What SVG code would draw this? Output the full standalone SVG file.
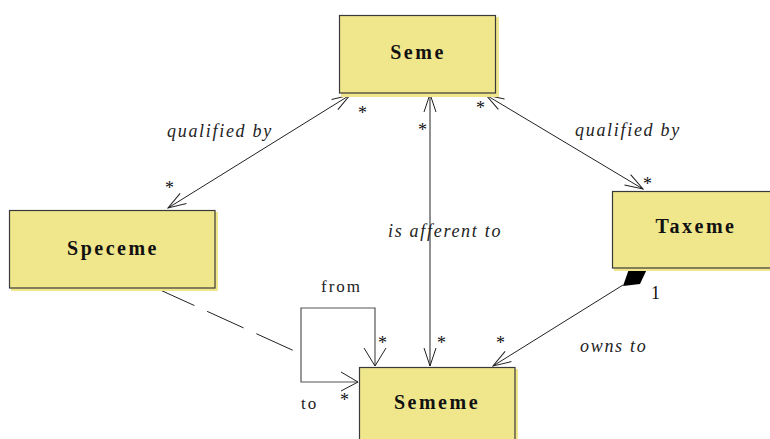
<svg xmlns="http://www.w3.org/2000/svg" width="770" height="439" viewBox="0 0 770 439">
  <defs>
    <style>
      .box { fill: #F0E68C; stroke: #3a3a3a; stroke-width: 1.2; }
      .shadow { fill: #F0E68C; }
      text { font-family: 'Liberation Serif', 'Times New Roman', serif; fill: #222; }
      .name { font-weight: bold; font-size: 20px; letter-spacing: 2.5px; text-anchor: middle; fill: #111; }
      .role { font-style: italic; font-size: 18px; letter-spacing: 1.7px; }
      .plain { font-size: 17px; letter-spacing: 2px; }
      .mult { font-size: 18px; fill: #111; }
      .line { fill: none; stroke: #222; stroke-width: 1; }
      .loop { fill: none; stroke: #555; stroke-width: 1.2; }
    </style>
    <marker id="open" viewBox="0 0 20 14" refX="19" refY="7" markerWidth="20" markerHeight="14" markerUnits="userSpaceOnUse" orient="auto-start-reverse">
      <path d="M1,1 L19,7 L1,13" fill="none" stroke="#222" stroke-width="1"/>
    </marker>
  </defs>

  <!-- associations -->
  <g id="connectors">
    <line class="line" x1="350" y1="95" x2="168" y2="208" marker-start="url(#open)" marker-end="url(#open)"/>
    <line class="line" x1="430" y1="94" x2="430" y2="366" marker-start="url(#open)" marker-end="url(#open)"/>
    <line class="line" x1="486" y1="95" x2="643" y2="189" marker-start="url(#open)" marker-end="url(#open)"/>
    <line class="line" x1="623" y1="285" x2="493" y2="366" marker-end="url(#open)"/>
    <!-- composition diamond, partly hidden under Taxeme -->
    <polygon points="629,269 647,269 640,284 623,286" fill="#000"/>
    <line class="line" x1="158" y1="289" x2="301" y2="354" stroke-dasharray="40 14"/>
    <!-- reflexive from/to association on Sememe -->
    <polyline class="loop" points="375,366 375,308 301,308 301,382 358,382"/>
    <polyline class="line" points="364,348 375,366 386,348"/>
    <polyline class="line" points="341,372 358,382 341,391"/>
  </g>

  <g id="seme">
    <rect class="shadow" x="341" y="17" width="158" height="80"/>
    <rect class="box" x="339.5" y="15.5" width="156" height="77.5"/>
    <text class="name" x="418" y="59">Seme</text>
  </g>

  <g id="speceme">
    <rect class="shadow" x="11" y="212" width="207" height="79"/>
    <rect class="box" x="9.5" y="210.5" width="205.5" height="77.5"/>
    <text class="name" x="113" y="255">Speceme</text>
  </g>

  <g id="taxeme">
    <rect class="shadow" x="614" y="193" width="160" height="78"/>
    <rect class="box" x="612.5" y="191.5" width="162" height="76.5"/>
    <text class="name" x="696" y="233">Taxeme</text>
  </g>

  <g id="sememe">
    <rect class="shadow" x="361" y="369" width="157" height="75"/>
    <rect class="box" x="359.5" y="367.5" width="155.5" height="75"/>
    <text class="name" x="437" y="409">Sememe</text>
  </g>

  <g id="labels">
    <text class="role" x="167" y="137">qualified by</text>
    <text class="role" x="575" y="136">qualified by</text>
    <text class="role" x="388" y="237">is afferent to</text>
    <text class="role" x="580" y="352">owns to</text>
    <text class="plain" x="321" y="292">from</text>
    <text class="plain" x="301" y="409">to</text>
    <text class="mult" x="358" y="119">*</text>
    <text class="mult" x="165" y="194">*</text>
    <text class="mult" x="418" y="136">*</text>
    <text class="mult" x="476" y="114">*</text>
    <text class="mult" x="643" y="190">*</text>
    <text class="mult" x="378" y="349">*</text>
    <text class="mult" x="437" y="349">*</text>
    <text class="mult" x="496" y="349">*</text>
    <text class="mult" x="340" y="406">*</text>
    <text class="mult" x="651" y="299">1</text>
  </g>
</svg>
